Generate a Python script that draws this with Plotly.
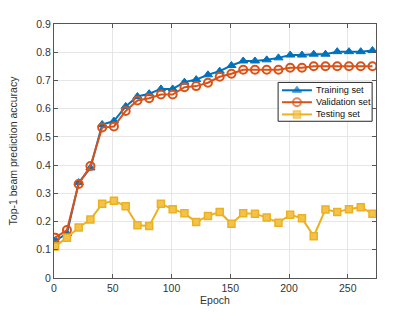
import plotly.graph_objects as go

epochs = [1, 11, 21, 31, 41, 51, 61, 71, 81, 91, 101, 111, 121, 131, 141,
          151, 161, 171, 181, 191, 201, 211, 221, 231, 241, 251, 261, 271]
training = [0.132, 0.157, 0.338, 0.390, 0.544, 0.556, 0.608, 0.643, 0.653, 0.670,
            0.670, 0.694, 0.703, 0.720, 0.733, 0.753, 0.769, 0.769, 0.773, 0.780,
            0.790, 0.790, 0.793, 0.793, 0.802, 0.802, 0.802, 0.806]
validation = [0.143, 0.170, 0.333, 0.397, 0.533, 0.537, 0.592, 0.629, 0.637, 0.650,
              0.650, 0.676, 0.680, 0.692, 0.713, 0.724, 0.738, 0.738, 0.738, 0.738,
              0.745, 0.745, 0.750, 0.750, 0.750, 0.750, 0.750, 0.750]
testing = [0.112, 0.143, 0.179, 0.207, 0.263, 0.274, 0.254, 0.187, 0.184, 0.263,
           0.244, 0.229, 0.198, 0.220, 0.234, 0.192, 0.229, 0.228, 0.214, 0.196,
           0.224, 0.212, 0.148, 0.243, 0.234, 0.244, 0.251, 0.228]

series_names = ["Training set", "Validation set", "Testing set"]
x_ticks = [0, 50, 100, 150, 200, 250]
y_ticks = [0, 0.1, 0.2, 0.3, 0.4, 0.5, 0.6, 0.7, 0.8, 0.9]
y_tick_labels = ["0", "0.1", "0.2", "0.3", "0.4", "0.5", "0.6", "0.7", "0.8", "0.9"]

FONT = "Liberation Sans, Arial"
colors = ["#0072BD", "#D95319", "#EDB120"]
markers = [
    dict(symbol="triangle-up", size=8, color="#0072BD", line=dict(color="#0072BD", width=1)),
    dict(symbol="circle-open", size=8, color="#D95319", line=dict(color="#D95319", width=2)),
    dict(symbol="square", size=7, color="#F2C24A", line=dict(color="#EDB120", width=1.5)),
]

fig = go.Figure()
for name, ys, c, m in zip(series_names, [training, validation, testing], colors, markers):
    fig.add_trace(go.Scatter(x=epochs, y=ys, name=name, mode="lines+markers",
                             line=dict(color=c, width=2), marker=m, showlegend=False))

# compact MATLAB-like legend, drawn on an overlay axis spanning the plot area (0..1)
lg_x0, lg_x1, lg_y0, lg_y1 = 0.696, 0.988, 0.617, 0.770
row_y = [0.739, 0.692, 0.644]
line_x0, line_x1, text_x = 0.708, 0.801, 0.806
fig.add_trace(go.Scatter(x=[lg_x0, lg_x1, lg_x1, lg_x0, lg_x0], y=[lg_y0, lg_y0, lg_y1, lg_y1, lg_y0],
                         mode="lines", fill="toself", fillcolor="white",
                         line=dict(color="#262626", width=1),
                         xaxis="x2", yaxis="y2", showlegend=False, hoverinfo="skip"))
for name, c, m, ry in zip(series_names, colors, markers, row_y):
    mm = dict(m)
    mm["size"] = [0, m["size"], 0]
    fig.add_trace(go.Scatter(x=[line_x0, (line_x0 + line_x1) / 2, line_x1], y=[ry, ry, ry],
                             mode="lines+markers", line=dict(color=c, width=2), marker=mm,
                             xaxis="x2", yaxis="y2", showlegend=False, hoverinfo="skip"))
    fig.add_annotation(x=text_x, y=ry, xref="paper", yref="paper", text=name, showarrow=False,
                       xanchor="left", yanchor="middle",
                       font=dict(family=FONT, size=9.2, color="#111111"))

axis_common = dict(
    showline=True, linecolor="#555555", linewidth=1, mirror="ticks",
    ticks="inside", ticklen=4, tickcolor="#555555",
    showgrid=True, gridcolor="#e6e6e6", gridwidth=1, zeroline=False,
    automargin=False,
    tickfont=dict(family=FONT, size=10.5, color="#333333"),
)

fig.update_layout(
    xaxis=dict(range=[0, 274], tickvals=x_ticks,
               title=dict(text="Epoch", standoff=4,
                          font=dict(family=FONT, size=10.5, color="#333333")),
               **axis_common),
    yaxis=dict(range=[0, 0.9], tickvals=y_ticks, ticktext=y_tick_labels,
               title=dict(text="Top-1 beam prediction accuracy", standoff=16,
                          font=dict(family=FONT, size=10.5, color="#333333")),
               **axis_common),
    xaxis2=dict(overlaying="x", range=[0, 1], visible=False, fixedrange=True),
    yaxis2=dict(overlaying="y", range=[0, 1], visible=False, fixedrange=True),
    width=415, height=312,
    margin=dict(l=54, r=39, t=24, b=34),
    paper_bgcolor="white", plot_bgcolor="white",
    showlegend=False,
)

fig.write_html("out.html", config={"displayModeBar": False},
               post_script="document.body.style.margin='0';")
